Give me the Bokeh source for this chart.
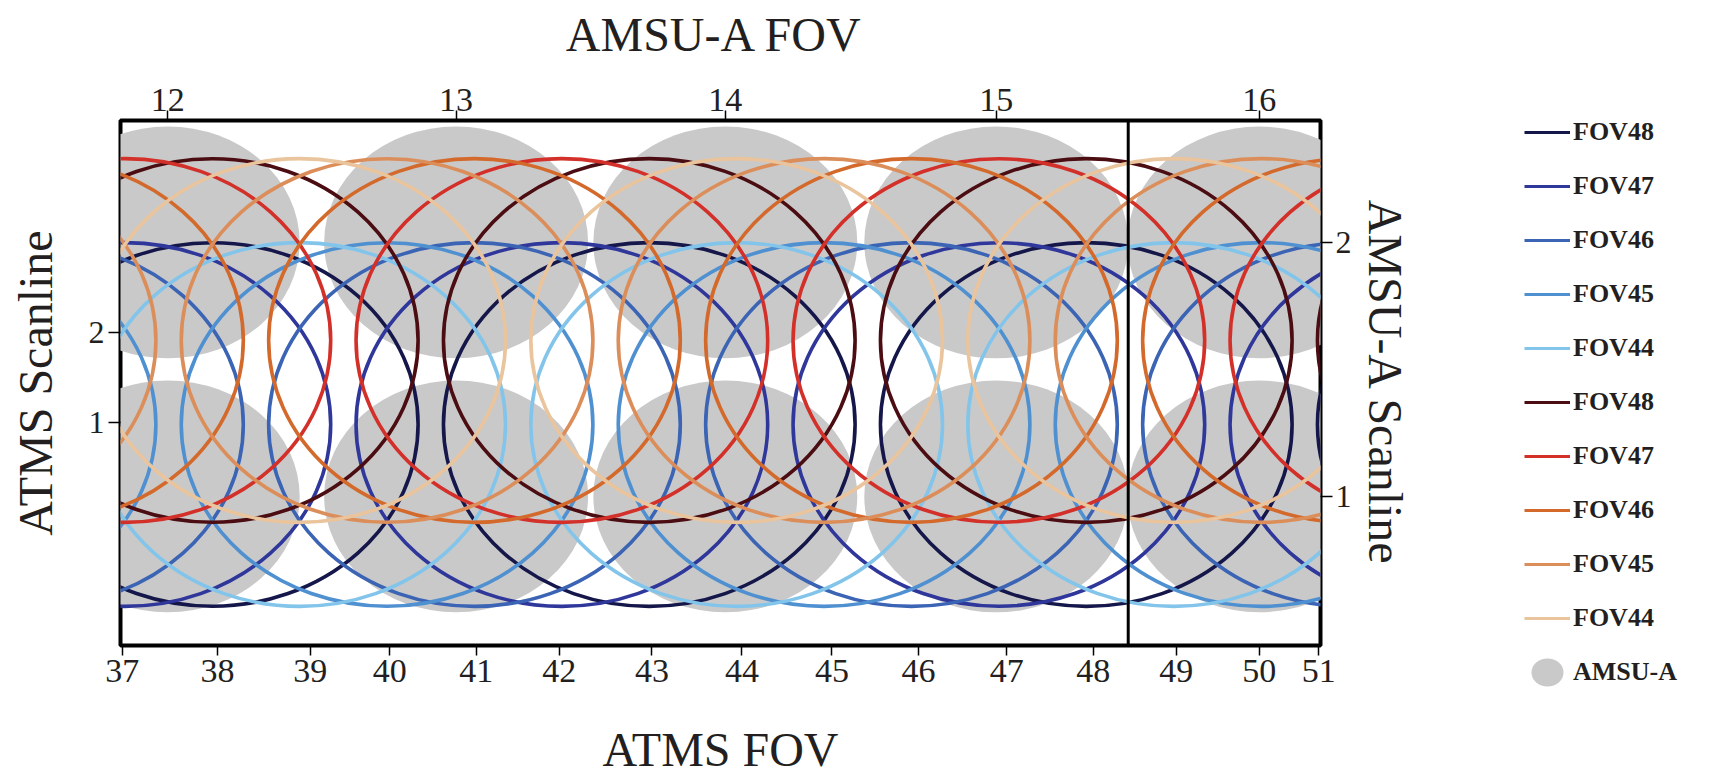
from bokeh.plotting import figure
from bokeh.models import (Range1d, LinearAxis, FixedTicker, Span, Legend,
                          LegendItem, ColumnDataSource)
from bokeh.embed import file_html
from bokeh.resources import INLINE

# ---------------- data ----------------
# ATMS footprint centres (ATMS FOV number) and the legend group each belongs to
ATMS_FOV = [35, 36, 37, 38, 39, 40, 41, 42, 43, 44, 45, 46, 47, 48, 49, 50, 51, 52, 53]
ATMS_GROUP = [45, 46, 47, 48, 44, 45, 46, 47, 48, 44, 45, 46, 47, 48, 44, 45, 46, 47, 48]
# ATMS scanlines drawn: lower row (blue) = 1, upper row (red) = 2
ATMS_SCANLINE_BLUE = 1
ATMS_SCANLINE_RED = 2
ATMS_FOOT_W = 4.71   # in ATMS FOV units
ATMS_FOOT_H = 4.33   # in ATMS scanline units
LEGEND_FOVS = [48, 47, 46, 45, 44]

# AMSU-A footprints
AMSU_FOV = [12, 13, 14, 15, 16]
AMSU_FOV_X = [37.49, 40.79, 43.87, 46.97, 49.98]   # positions on ATMS FOV scale
AMSU_SCANLINES = [1, 2]
AMSU_FOOT_W = 3.02   # ATMS FOV units
AMSU_FOOT_H = 0.913  # AMSU scanline units

# bottom axis tick labels and their (hand placed) positions
ATMS_TICK_LABELS = ["37", "38", "39", "40", "41", "42", "43", "44", "45", "46",
                    "47", "48", "49", "50", "51"]
ATMS_TICK_POS = [36.97, 38.06, 39.12, 40.03, 41.02, 41.97, 43.03, 44.06, 45.09,
                 46.08, 47.09, 48.08, 49.03, 49.98, 50.66]
LEFT_TICK_LABELS = ["1", "2"]
LEFT_TICK_POS = [1.02, 2.10]
DIVIDER_X = 48.48

BLUE = {48: "#15174a", 47: "#2f379b", 46: "#3b64b5", 45: "#4f90d1", 44: "#83c5ea"}
RED = {48: "#4b0d12", 47: "#d3302a", 46: "#d4692c", 45: "#dc8e5a", 44: "#e9c49c"}
GREY = "#c9c9c9"
FONT = "Liberation Serif"
TXT = "#231f20"
LW = 3.6

# ---------------- main figure ----------------
p = figure(frame_width=1200, frame_height=525, output_backend="svg",
           toolbar_location=None,
           x_range=Range1d(36.95, 50.68), y_range=Range1d(-1.631, 4.619),
           min_border_left=120, min_border_right=390, min_border_top=120,
           min_border_bottom=133, background_fill_color="white",
           border_fill_color="white")
p.extra_y_ranges = {"amsu": Range1d(0.413, 2.480)}
p.grid.visible = False
p.outline_line_color = "black"
p.outline_line_width = 4

# AMSU-A grey footprints
ax, ay = [], []
for s in AMSU_SCANLINES:
    for xv in AMSU_FOV_X:
        ax.append(xv)
        ay.append(s)
amsu_r = p.ellipse(x=ax, y=ay, width=AMSU_FOOT_W, height=AMSU_FOOT_H,
                   y_range_name="amsu", fill_color=GREY, line_color=None)

group_x = {fov: [x for x, g in zip(ATMS_FOV, ATMS_GROUP) if g == fov] for fov in LEGEND_FOVS}

items = []
for row_y, cols in ((ATMS_SCANLINE_BLUE, BLUE), (ATMS_SCANLINE_RED, RED)):
    for fov in LEGEND_FOVS:
        xs = group_x[fov]
        src = ColumnDataSource(dict(x=xs, y=[row_y] * len(xs)))
        p.ellipse(x="x", y="y", width=ATMS_FOOT_W, height=ATMS_FOOT_H,
                  source=src, fill_color=None, line_color=cols[fov], line_width=LW)
        # line renderer that only serves as the legend sample (kept outside the view)
        lr = p.line(x="x", y="y", source=src, line_color=cols[fov], line_width=3,
                    y_range_name="legend_dummy")
        items.append(LegendItem(label="FOV%d" % fov, renderers=[lr]))
items.append(LegendItem(label="AMSU-A", renderers=[amsu_r]))
p.extra_y_ranges["legend_dummy"] = Range1d(100, 101)

p.add_layout(Span(location=DIVIDER_X, dimension="height", line_color="black",
                  line_width=3))

# ---------------- axes ----------------
def style(axis, tick_size):
    axis.axis_line_color = None
    axis.major_tick_line_color = "black"
    axis.major_tick_line_width = 1.5
    axis.major_tick_in = 0
    axis.minor_tick_line_color = None
    axis.major_label_text_font = FONT
    axis.major_label_text_font_size = tick_size
    axis.major_label_text_color = TXT
    axis.axis_label_text_font = FONT
    axis.axis_label_text_font_size = "48px"
    axis.axis_label_text_font_style = "normal"
    axis.axis_label_text_color = TXT

xb = p.xaxis[0]
xb.ticker = FixedTicker(ticks=ATMS_TICK_POS)
xb.major_label_overrides = {t: l for t, l in zip(ATMS_TICK_POS, ATMS_TICK_LABELS)}
xb.axis_label = "ATMS FOV"
style(xb, "34px")
xb.major_tick_out = 10
xb.major_label_standoff = 4
xb.axis_label_standoff = 38

yl = p.yaxis[0]
yl.ticker = FixedTicker(ticks=LEFT_TICK_POS)
yl.major_label_overrides = {t: l for t, l in zip(LEFT_TICK_POS, LEFT_TICK_LABELS)}
yl.axis_label = "ATMS Scanline"
style(yl, "32px")
yl.major_tick_out = 12
yl.major_label_standoff = 4
yl.axis_label_standoff = 24

xt = LinearAxis(ticker=FixedTicker(ticks=AMSU_FOV_X),
                major_label_overrides={t: str(l) for t, l in zip(AMSU_FOV_X, AMSU_FOV)},
                axis_label="AMSU-A  FOV")
style(xt, "34px")
xt.major_tick_out = 10
xt.major_label_standoff = 0
xt.axis_label_standoff = 25
p.add_layout(xt, "above")

yr = LinearAxis(y_range_name="amsu", ticker=FixedTicker(ticks=AMSU_SCANLINES),
                axis_label="AMSU-A Scanline")
style(yr, "32px")
yr.major_tick_out = 12
yr.major_label_standoff = 3
yr.axis_label_standoff = 4
p.add_layout(yr, "right")

legend = Legend(items=items, location=(-177, -47), orientation="vertical",
                label_text_font=FONT, label_text_font_style="bold",
                label_text_font_size="26px", label_text_color=TXT,
                glyph_width=46, glyph_height=40, label_height=40, label_width=100,
                spacing=14, padding=0, margin=60, label_standoff=3,
                border_line_color=None, background_fill_alpha=0)
p.add_layout(legend, "right")

open("out.html", "w").write(file_html(p, INLINE))
